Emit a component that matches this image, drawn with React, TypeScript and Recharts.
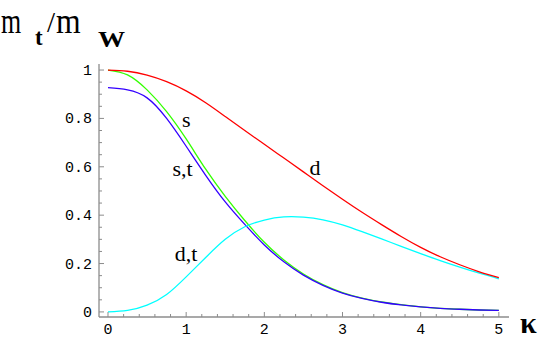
import React from 'react';
import { LineChart, Line, XAxis, YAxis, ReferenceDot } from 'recharts';

const kappa = [0, 0.25, 0.5, 0.75, 1, 1.25, 1.5, 1.75, 2, 2.25, 2.5, 2.75, 3, 3.25, 3.5, 3.75, 4, 4.25, 4.5, 4.75, 5];
const dValues = [1.0, 0.995, 0.979, 0.952, 0.914, 0.865, 0.808, 0.75, 0.693, 0.636, 0.579, 0.522, 0.466, 0.412, 0.361, 0.312, 0.267, 0.228, 0.195, 0.166, 0.142];
const dtValues = [0, 0.006, 0.028, 0.072, 0.145, 0.225, 0.3, 0.352, 0.38, 0.393, 0.392, 0.381, 0.36, 0.332, 0.302, 0.271, 0.241, 0.212, 0.185, 0.16, 0.137];
const sValues = [1.0, 0.98, 0.918, 0.828, 0.715, 0.59, 0.478, 0.378, 0.288, 0.215, 0.157, 0.113, 0.08, 0.057, 0.041, 0.03, 0.021, 0.015, 0.011, 0.008, 0.006];
const stValues = [0.927, 0.918, 0.885, 0.8, 0.685, 0.565, 0.455, 0.362, 0.277, 0.207, 0.152, 0.11, 0.078, 0.056, 0.04, 0.029, 0.021, 0.015, 0.011, 0.008, 0.006];

const xMajor = [0, 1, 2, 3, 4, 5];
const xTickLabels = ['0', '1', '2', '3', '4', '5'];
const xMinor = [0.2, 0.4, 0.6, 0.8, 1.2, 1.4, 1.6, 1.8, 2.2, 2.4, 2.6, 2.8, 3.2, 3.4, 3.6, 3.8, 4.2, 4.4, 4.6, 4.8];
const yMajor = [0, 0.2, 0.4, 0.6, 0.8, 1];
const yTickLabels = ['0', '0.2', '0.4', '0.6', '0.8', '1'];
const yMinor = [0.05, 0.1, 0.15, 0.25, 0.3, 0.35, 0.45, 0.5, 0.55, 0.65, 0.7, 0.75, 0.85, 0.9, 0.95];

const curveLabels = [
  { text: 's', k: 1.0, v: 0.797 },
  { text: 's,t', k: 0.955, v: 0.593 },
  { text: 'd', k: 2.647, v: 0.598 },
  { text: 'd,t', k: 1.0, v: 0.244 },
];

const data = kappa.map((k, i) => ({ k, d: dValues[i], dt: dtValues[i], s: sValues[i], st: stValues[i] }));

const xTicks = [...xMajor, ...xMinor].sort((a, b) => a - b);
const yTicks = [...yMajor, ...yMinor].sort((a, b) => a - b);

const FRAME = '#8c8c8c';
const majorIndex = (arr: number[], v: number) => arr.findIndex((m) => Math.abs(m - v) < 1e-6);

const BottomTick = (props: any) => {
  const { x, y, payload } = props;
  const mi = majorIndex(xMajor, payload.value);
  const len = mi >= 0 ? 5 : 3;
  return (
    <g>
      <line x1={x} x2={x} y1={y} y2={y - len} stroke={FRAME} strokeWidth={1} />
      {mi >= 0 && (
        <text x={x} y={y + 17} textAnchor="middle" fontFamily="Liberation Mono" fontSize={15} fill="#000">
          {xTickLabels[mi]}
        </text>
      )}
    </g>
  );
};

const TopTick = (props: any) => {
  const { x, y, payload } = props;
  const mi = majorIndex(xMajor, payload.value);
  const len = mi >= 0 ? 5 : 3;
  return <line x1={x} x2={x} y1={y} y2={y + len} stroke={FRAME} strokeWidth={1} />;
};

const LeftTick = (props: any) => {
  const { x, y, payload } = props;
  const mi = majorIndex(yMajor, payload.value);
  const len = mi >= 0 ? 5 : 3;
  return (
    <g>
      <line x1={x} x2={x + len} y1={y} y2={y} stroke={FRAME} strokeWidth={1} />
      {mi >= 0 && (
        <text x={x - 7} y={y + 5} textAnchor="end" fontFamily="Liberation Mono" fontSize={15} fill="#000">
          {yTickLabels[mi]}
        </text>
      )}
    </g>
  );
};

const RightTick = (props: any) => {
  const { x, y, payload } = props;
  const mi = majorIndex(yMajor, payload.value);
  const len = mi >= 0 ? 5 : 3;
  return <line x1={x} x2={x - len} y1={y} y2={y} stroke={FRAME} strokeWidth={1} />;
};

const xDomain = [-0.115, 5.13];
const yDomain = [-0.021, 1.025];

export default function App() {
  return (
    <div style={{ position: 'absolute', left: 0, top: 0, width: 545, height: 341, background: '#fff' }}>
      <LineChart width={545} height={341} data={data} margin={{ top: 64, right: 36, left: 0, bottom: 0 }}>
        <XAxis
          dataKey="k"
          type="number"
          domain={xDomain}
          allowDataOverflow
          ticks={xTicks}
          interval={0}
          height={24}
          tickSize={0}
          tickMargin={0}
          tickLine={false}
          axisLine={{ stroke: FRAME, strokeWidth: 1.3 }}
          tick={<BottomTick />}
        />
        <XAxis
          xAxisId="top"
          orientation="top"
          dataKey="k"
          type="number"
          domain={xDomain}
          allowDataOverflow
          ticks={xTicks}
          interval={0}
          height={0}
          tickSize={0}
          tickMargin={0}
          tickLine={false}
          axisLine={{ stroke: FRAME, strokeWidth: 1.3 }}
          tick={<TopTick />}
        />
        <YAxis
          type="number"
          domain={yDomain}
          allowDataOverflow
          ticks={yTicks}
          interval={0}
          width={99}
          tickSize={0}
          tickMargin={0}
          tickLine={false}
          axisLine={{ stroke: FRAME, strokeWidth: 1.3 }}
          tick={<LeftTick />}
        />
        <YAxis
          yAxisId="right"
          orientation="right"
          type="number"
          domain={yDomain}
          allowDataOverflow
          ticks={yTicks}
          interval={0}
          width={0}
          tickSize={0}
          tickMargin={0}
          tickLine={false}
          axisLine={{ stroke: FRAME, strokeWidth: 1.3 }}
          tick={<RightTick />}
        />
        <Line dataKey="s" type="natural" stroke="#33ff00" strokeWidth={1.3} dot={false} isAnimationActive={false} />
        <Line dataKey="st" type="natural" stroke="#3300ff" strokeWidth={1.3} dot={false} isAnimationActive={false} />
        <Line dataKey="dt" type="natural" stroke="#00ffff" strokeWidth={1.3} dot={false} isAnimationActive={false} />
        <Line dataKey="d" type="natural" stroke="#ff0000" strokeWidth={1.3} dot={false} isAnimationActive={false} />
        {curveLabels.map((c) => (
          <ReferenceDot
            key={c.text}
            x={c.k}
            y={c.v}
            r={1}
            fill="none"
            stroke="none"
            label={{ value: c.text, position: 'center', fontSize: 22, fill: '#000', fontFamily: 'Liberation Serif' }}
          />
        ))}
      </LineChart>
      <svg width={545} height={341} style={{ position: 'absolute', left: 0, top: 0, pointerEvents: 'none' }}>
        <g fontFamily="Liberation Serif" fill="#000">
          <text transform="translate(1,33) scale(0.72,1)" fontSize={36}>m</text>
          <text x={35} y={45} fontSize={23} fontWeight="bold">t</text>
          <text x={47} y={32} fontSize={29}>/</text>
          <text transform="translate(56,33) scale(0.88,1)" fontSize={36}>m</text>
          <text transform="translate(98,47) scale(1.18,1)" fontSize={23} fontWeight="bold">W</text>
          <text x={520} y={333} fontSize={30} fontWeight="bold">κ</text>
        </g>
      </svg>
    </div>
  );
}
